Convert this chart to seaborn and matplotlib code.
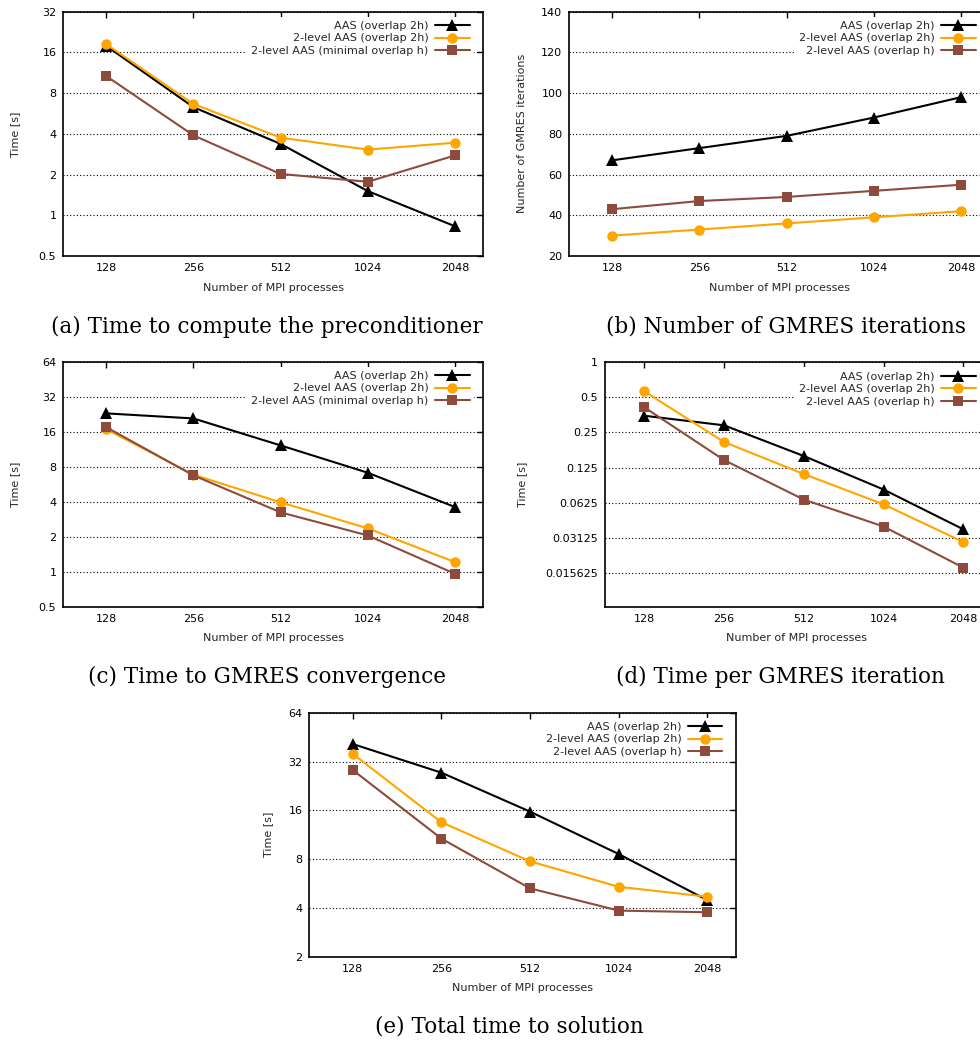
import numpy as np
import pandas as pd
import matplotlib
matplotlib.use("Agg")
import matplotlib.pyplot as plt
from matplotlib.ticker import FixedLocator, FixedFormatter, NullLocator
import seaborn as sns

# Number of MPI processes
procs = [128, 256, 512, 1024, 2048]
proc_labels = ["128", "256", "512", "1024", "2048"]

# Series names
aas = "AAS (overlap 2h)"
two_level = "2-level AAS (overlap 2h)"
two_level_min = "2-level AAS (minimal overlap h)"
two_level_h = "2-level AAS (overlap h)"

# (a) preconditioner setup time [s]
precond_aas = [17.9, 6.3, 3.37, 1.51, 0.83]
precond_2lvl = [18.4, 6.65, 3.75, 3.06, 3.44]
precond_2lvl_h = [10.7, 3.9, 2.02, 1.77, 2.77]

# (b) GMRES iteration counts
iters_aas = [67, 73, 79, 88, 98]
iters_2lvl = [30, 33, 36, 39, 42]
iters_2lvl_h = [43, 47, 49, 52, 55]

# (c) time to GMRES convergence [s]
gmres_aas = [23.0, 20.8, 12.2, 7.1, 3.6]
gmres_2lvl = [16.8, 6.83, 3.95, 2.36, 1.21]
gmres_2lvl_h = [17.5, 6.74, 3.24, 2.05, 0.96]

# (d) time per GMRES iteration [s]
periter_aas = [0.348, 0.288, 0.157, 0.081, 0.0369]
periter_2lvl = [0.564, 0.207, 0.110, 0.0604, 0.0287]
periter_2lvl_h = [0.411, 0.145, 0.0664, 0.039, 0.0173]

# (e) total time to solution [s]
total_aas = [41.0, 27.3, 15.7, 8.6, 4.47]
total_2lvl = [35.6, 13.5, 7.75, 5.4, 4.69]
total_2lvl_h = [28.3, 10.7, 5.28, 3.85, 3.76]

colors = ["#000000", "#FFA500", "#8C4B3D"]
markers = ["^", "o", "s"]
marker_sizes = [8.0, 7.5, 7.0]
FS = 8.0

sns.set_theme(style="white")
plt.rcParams["font.family"] = ["DejaVu Sans"]
plt.rcParams["axes.edgecolor"] = "black"
plt.rcParams["axes.linewidth"] = 1.2

W, H = 980, 1044
fig = plt.figure(figsize=(W / 100, H / 100), dpi=100)


def axes_px(left, top, right, bottom):
    return fig.add_axes([left / W, 1 - bottom / H, (right - left) / W, (bottom - top) / H])


def panel(ax, series, labels, ylabel, ylim, yticks, yticklabels, ylabel_x, logy=True):
    df = pd.DataFrame({
        "procs": procs * len(series),
        "value": [v for s in series for v in s],
        "series": np.repeat(labels, len(procs)),
    })
    sns.lineplot(
        data=df, x="procs", y="value", hue="series", hue_order=labels,
        style="series", style_order=labels,
        markers=dict(zip(labels, markers)), dashes=False,
        palette=dict(zip(labels, colors)), linewidth=1.5,
        markersize=8, markeredgewidth=0, errorbar=None, sort=False,
        legend=False, ax=ax,
    )
    for line, ms in zip(ax.lines, marker_sizes):
        line.set_markersize(ms)
    ax.set_xscale("log", base=2)
    ax.set_xlim(91, 2560)
    ax.xaxis.set_major_locator(FixedLocator(procs))
    ax.xaxis.set_major_formatter(FixedFormatter(proc_labels))
    ax.xaxis.set_minor_locator(NullLocator())
    if logy:
        ax.set_yscale("log", base=2)
    ax.set_ylim(*ylim)
    ax.yaxis.set_major_locator(FixedLocator(yticks))
    ax.yaxis.set_major_formatter(FixedFormatter(yticklabels))
    ax.yaxis.set_minor_locator(NullLocator())
    ax.tick_params(direction="in", top=True, right=True, length=4, width=1,
                   labelsize=FS, pad=5, colors="black")
    ax.grid(axis="y", color="black", linestyle=(0, (1, 2)), linewidth=0.8)
    ax.grid(axis="x", visible=False)
    ax.set_axisbelow(True)
    ax.set_xlabel("Number of MPI processes", fontsize=FS, labelpad=7)
    ax.set_ylabel(ylabel, fontsize=FS)
    bbox = ax.get_position()
    w_px, h_px = bbox.width * W, bbox.height * H
    ax.yaxis.set_label_coords((ylabel_x - bbox.x0 * W) / w_px, 0.5)
    for sp in ax.spines.values():
        sp.set_visible(True)
        sp.set_color("black")
        sp.set_linewidth(1.2)
    leg = ax.legend(
        ax.lines[:3], labels, loc="upper right", markerfirst=False,
        bbox_to_anchor=(1 - 5 / w_px, 1 - 1 / h_px),
        frameon=True, facecolor="white", edgecolor="none", framealpha=1,
        fancybox=False, fontsize=FS, handlelength=3.1, handletextpad=0.6,
        labelspacing=0.22, borderpad=0.4, borderaxespad=0.35,
    )
    leg.get_frame().set_linewidth(0)


ax_a = axes_px(63.3, 11.7, 483, 256)
panel(ax_a, [precond_aas, precond_2lvl, precond_2lvl_h],
      [aas, two_level, two_level_min], "Time [s]", (0.5, 32),
      [0.5, 1, 2, 4, 8, 16, 32], ["0.5", "1", "2", "4", "8", "16", "32"], 20)

ax_b = axes_px(569.3, 11.7, 989, 256)
panel(ax_b, [iters_aas, iters_2lvl, iters_2lvl_h],
      [aas, two_level, two_level_h], "Number of GMRES iterations", (20, 140),
      [20, 40, 60, 80, 100, 120, 140],
      ["20", "40", "60", "80", "100", "120", "140"], 527, logy=False)

ax_c = axes_px(63.3, 361.7, 483, 606.7)
panel(ax_c, [gmres_aas, gmres_2lvl, gmres_2lvl_h],
      [aas, two_level, two_level_min], "Time [s]", (0.5, 64),
      [0.5, 1, 2, 4, 8, 16, 32, 64],
      ["0.5", "1", "2", "4", "8", "16", "32", "64"], 20)

ax_d = axes_px(605, 362.3, 989, 606.7)
panel(ax_d, [periter_aas, periter_2lvl, periter_2lvl_h],
      [aas, two_level, two_level_h], "Time [s]", (0.008, 1),
      [0.015625, 0.03125, 0.0625, 0.125, 0.25, 0.5, 1],
      ["0.015625", "0.03125", "0.0625", "0.125", "0.25", "0.5", "1"], 527)

ax_e = axes_px(309.3, 712.7, 735.7, 956.7)
panel(ax_e, [total_aas, total_2lvl, total_2lvl_h],
      [aas, two_level, two_level_h], "Time [s]", (2, 64),
      [2, 4, 8, 16, 32, 64], ["2", "4", "8", "16", "32", "64"], 273)

captions = [
    ("(a) Time to compute the preconditioner", 267, 327),
    ("(b) Number of GMRES iterations", 786, 327),
    ("(c) Time to GMRES convergence", 267, 677),
    ("(d) Time per GMRES iteration", 780, 677),
    ("(e) Total time to solution", 509, 1027),
]
for text, cx, cy in captions:
    fig.text(cx / W, 1 - cy / H, text, ha="center", va="center",
             fontsize=15.5, family=["DejaVu Serif"], color="black")

fig.savefig("out.png", dpi=100, facecolor="white")
